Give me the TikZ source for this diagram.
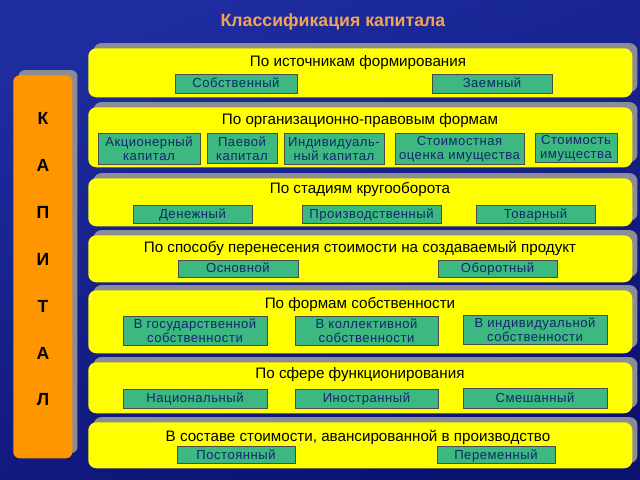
\documentclass[tikz,border=0pt]{standalone}
\usepackage{fontspec}
\setmainfont{Liberation Sans}
\usetikzlibrary{positioning,shadows}

\definecolor{bgblue}{RGB}{30,44,160}
\definecolor{bgdeep}{RGB}{12,18,112}
\definecolor{rowyellow}{RGB}{255,255,0}
\definecolor{kindgreen}{RGB}{60,184,128}
\definecolor{kindtext}{RGB}{18,40,110}
\definecolor{caporange}{RGB}{255,150,0}
\definecolor{titleorange}{RGB}{242,164,84}
\definecolor{shadowgray}{RGB}{140,140,148}

\newcommand{\pxu}{0.025cm}

\tikzset{
  rowbox/.style = {fill = rowyellow, shape = rectangle, rounded corners = 2mm, anchor = north west,
    minimum width = 544*\pxu, inner sep = 0pt,
    drop shadow = {shadow xshift = 1.3mm, shadow yshift = 1.3mm, fill = shadowgray, opacity = 1}},
  rowtitle/.style = {font = \fontsize{10.8}{12}\selectfont, text = black},
  kind/.style = {fill = kindgreen, draw = black!70, line width = 0.6pt, shape = rectangle,
    align = center, inner sep = 0pt, text = kindtext,
    font = \fontsize{9.3}{10}\selectfont\addfontfeature{LetterSpace=4}},
  oneline/.style = {kind, text height = 1.55ex, text depth = 0.35ex},
  letter/.style = {font = \bfseries\fontsize{12.5}{13}\selectfont, text = black}
}

\begin{document}
\begin{tikzpicture}[x=\pxu, y=-\pxu]
\useasboundingbox (0,0) rectangle (640,480);
\shade[shading = axis, top color = bgblue, bottom color = bgdeep, shading angle = 20] (0,0) rectangle (640,480);

\node[font = \bfseries\fontsize{12.6}{14}\selectfont, text = titleorange] (head) at (333,22) {Классификация капитала};

% left column
\node[fill = caporange, shape = rectangle, rounded corners = 1.6mm, anchor = north west,
  minimum width = 59*\pxu, minimum height = 383*\pxu,
  drop shadow = {shadow xshift = 1.3mm, shadow yshift = 1.3mm, fill = shadowgray, opacity = 1}] (cap) at (13,75) {};
\node[letter] (l1) at (43,118) {К};
\node[letter] (l2) at (43,165) {А};
\node[letter] (l3) at (43,212) {П};
\node[letter] (l4) at (43,259) {И};
\node[letter] (l5) at (43,306) {Т};
\node[letter] (l6) at (43,353) {А};
\node[letter] (l7) at (43,400) {Л};

% rows
\node[rowbox, minimum height = 49*\pxu] (r1) at (88,48) {};
\node[rowbox, minimum height = 60*\pxu] (r2) at (88,107) {};
\node[rowbox, minimum height = 48*\pxu] (r3) at (88,178) {};
\node[rowbox, minimum height = 47*\pxu] (r4) at (88,235) {};
\node[rowbox, minimum height = 63*\pxu] (r5) at (88,290) {};
\node[rowbox, minimum height = 51*\pxu] (r6) at (88,362) {};
\node[rowbox, minimum height = 46*\pxu] (r7) at (88,422) {};

\node[rowtitle] (t1) at (358,63) {По источникам формирования};
\node[rowtitle] (t2) at (360,121) {По организационно-правовым формам};
\node[rowtitle] (t3) at (360,190) {По стадиям кругооборота};
\node[rowtitle] (t4) at (360,248) {По способу перенесения стоимости на создаваемый продукт};
\node[rowtitle] (t5) at (360,305) {По формам собственности};
\node[rowtitle] (t6) at (360,375) {По сфере функционирования};
\node[rowtitle] (t7) at (358,437) {В составе стоимости, авансированной в производство};

% kinds
\node[oneline, minimum width = 122*\pxu, minimum height = 19*\pxu] (own) at (236,83.5) {Собственный};
\node[oneline, minimum width = 120*\pxu, minimum height = 19*\pxu] (borrow) at (492,83.5) {Заемный};

\node[kind, minimum width = 102*\pxu, minimum height = 31*\pxu] (stock) at (149,149) {Акционерный\\капитал};
\node[kind, minimum width = 70*\pxu, minimum height = 30*\pxu] (share) at (242,148.5) {Паевой\\капитал};
\node[kind, minimum width = 100*\pxu, minimum height = 31*\pxu] (indiv) at (334,149) {Индивидуаль-\\ный капитал};
\node[kind, minimum width = 129*\pxu, minimum height = 31*\pxu] (value) at (459.5,149) {Стоимостная\\оценка имущества};
\node[kind, minimum width = 82*\pxu, minimum height = 29*\pxu] (prop) at (576,148) {Стоимость\\имущества};

\node[oneline, minimum width = 119*\pxu, minimum height = 18*\pxu] (money) at (192.5,214) {Денежный};
\node[oneline, minimum width = 139*\pxu, minimum height = 18*\pxu] (prod) at (371.5,214) {Производственный};
\node[oneline, minimum width = 119*\pxu, minimum height = 18*\pxu] (goods) at (535.5,214) {Товарный};

\node[oneline, minimum width = 120*\pxu, minimum height = 17*\pxu] (fixed) at (238,268.5) {Основной};
\node[oneline, minimum width = 119*\pxu, minimum height = 17*\pxu] (circ) at (497.5,268.5) {Оборотный};

\node[kind, minimum width = 144*\pxu, minimum height = 29*\pxu] (state) at (195,331) {В государственной\\собственности};
\node[kind, minimum width = 143*\pxu, minimum height = 29*\pxu] (coll) at (366.5,331) {В коллективной\\собственности};
\node[kind, minimum width = 144*\pxu, minimum height = 29*\pxu] (priv) at (535,329.5) {В индивидуальной\\собственности};

\node[oneline, minimum width = 144*\pxu, minimum height = 19*\pxu] (nat) at (195,398.5) {Национальный};
\node[oneline, minimum width = 143*\pxu, minimum height = 19*\pxu] (foreign) at (366.5,398.5) {Иностранный};
\node[oneline, minimum width = 144*\pxu, minimum height = 20*\pxu] (mixed) at (535,398) {Смешанный};

\node[oneline, minimum width = 118*\pxu, minimum height = 17*\pxu] (const) at (236,455) {Постоянный};
\node[oneline, minimum width = 118*\pxu, minimum height = 17*\pxu] (var) at (496,455) {Переменный};
\end{tikzpicture}
\end{document}
